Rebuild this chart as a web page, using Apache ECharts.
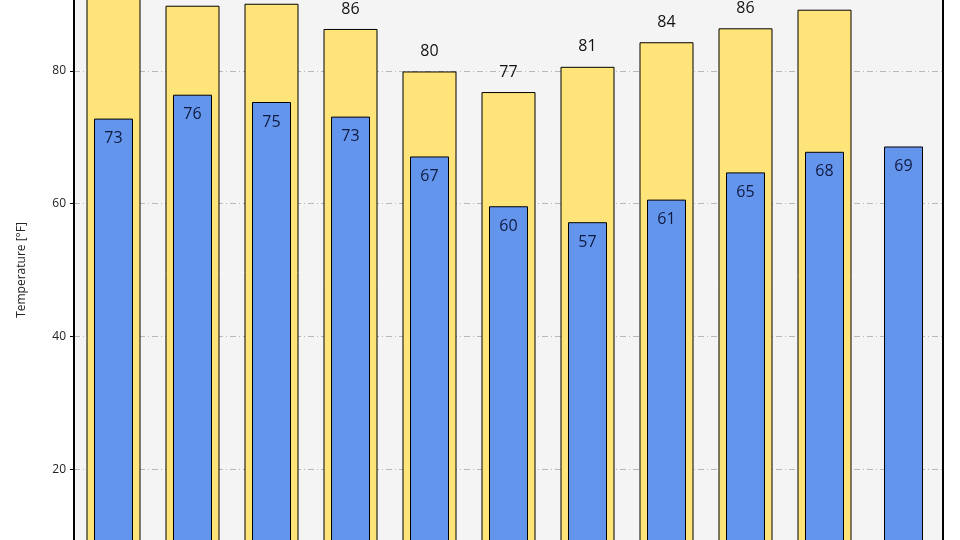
<!DOCTYPE html>
<html>
<head>
<meta charset="utf-8">
<script src="https://cdn.jsdelivr.net/npm/echarts@6/dist/echarts.min.js"></script>
<style>
  html, body { margin: 0; padding: 0; background: #fff; }
  #chart { width: 960px; height: 540px; }
</style>
</head>
<body>
<div id="chart"></div>
<script>
// data
const categories = ["1", "2", "3", "4", "5", "6", "7", "8", "9", "10", "11"];
const highTemps = [93.5, 89.8, 90.1, 86.3, 79.9, 76.8, 80.6, 84.3, 86.4, 89.2, null];
const lowTemps = [72.8, 76.4, 75.3, 73.1, 67.1, 59.6, 57.2, 60.6, 64.7, 67.8, 68.6];
const yTicks = [0, 20, 40, 60, 80, 100];

const chart = echarts.init(document.getElementById("chart"));

const fontFamily = "Open Sans";

// two category axes on the same grid so both bar sets sit centred on the slot
const hiddenCategory = (data) => ({
  type: "category",
  data: data,
  axisLine: { show: false },
  axisTick: { show: false },
  axisLabel: { show: false },
  splitLine: { show: false },
});

const option = {
  animation: false,
  grid: {
    left: 74,
    right: 17,
    top: -62,
    bottom: -62,
    outerBoundsMode: "none",
    containLabel: false,
    show: true,
    backgroundColor: "#f4f4f4",
    borderColor: "#000",
    borderWidth: 2,
  },
  xAxis: [hiddenCategory(categories), hiddenCategory(categories)],
  yAxis: {
    type: "value",
    min: yTicks[0],
    max: yTicks[yTicks.length - 1],
    interval: 20,
    name: "Temperature [°F]",
    nameLocation: "middle",
    nameGap: 46,
    nameTextStyle: { color: "#222", fontSize: 12, fontFamily: fontFamily },
    axisLine: { show: true, lineStyle: { color: "#000", width: 2 } },
    axisTick: { show: true, length: 4, lineStyle: { color: "#000" } },
    axisLabel: { color: "#222", fontSize: 12, fontFamily: fontFamily, margin: 8 },
    splitLine: {
      show: true,
      lineStyle: { color: "#b8b8b8", type: [6, 3, 1, 3], width: 1 },
    },
  },
  series: [
    {
      name: "High",
      type: "bar",
      xAxisIndex: 0,
      data: highTemps,
      barWidth: 54,
      itemStyle: { color: "#ffe47a", borderColor: "#000", borderWidth: 1 },
      label: {
        show: true,
        position: "top",
        distance: 12,
        color: "#111",
        fontSize: 16,
        fontFamily: fontFamily,
        formatter: (p) => Math.round(p.value),
      },
      z: 2,
    },
    {
      name: "Low",
      type: "bar",
      xAxisIndex: 1,
      data: lowTemps,
      barWidth: 39,
      itemStyle: { color: "#6495ed", borderColor: "#000", borderWidth: 1 },
      label: {
        show: true,
        position: "insideTop",
        distance: 12,
        color: "#101a40",
        fontSize: 16,
        fontFamily: fontFamily,
        formatter: (p) => Math.round(p.value),
      },
      z: 3,
    },
  ],
};

chart.setOption(option);
</script>
</body>
</html>
